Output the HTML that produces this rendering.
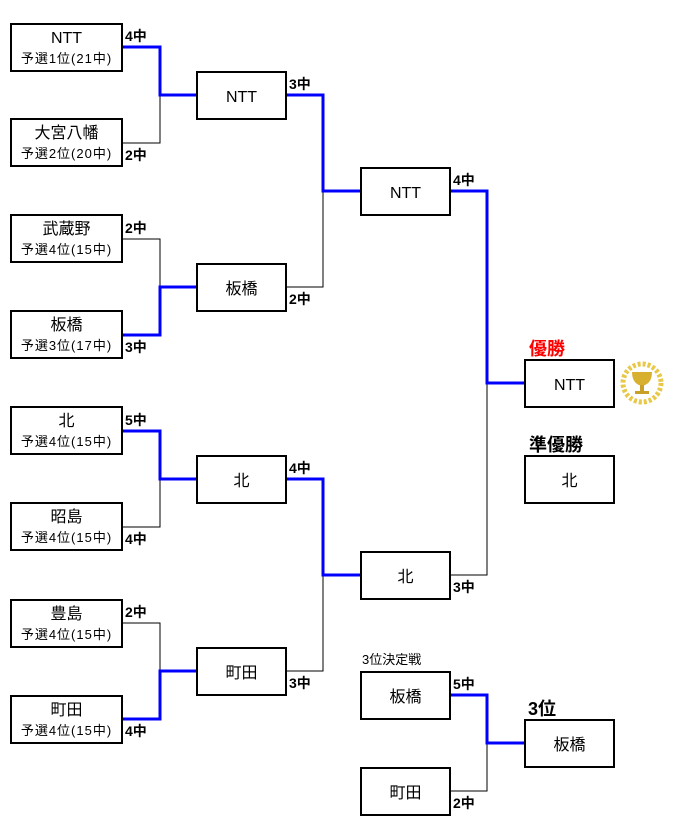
<!DOCTYPE html>
<html><head><meta charset="utf-8"><style>
body{margin:0;width:677px;height:834px;background:#fff;position:relative;overflow:hidden;font-family:"Liberation Sans","Noto Sans CJK JP",sans-serif}
.b{position:absolute;box-sizing:border-box;border:2px solid #000;background:#fff;text-align:center;color:#000}
.r1{left:10px;width:113px;height:49px}
.r1 .n{font-size:16px;line-height:18px;margin-top:5px}
.r1 .s{font-size:13px;line-height:16px;margin-top:3px;letter-spacing:1px}
.m{width:91px;height:49px;font-size:16px;line-height:49px}
.sc{position:absolute;font-weight:bold;font-size:14px;line-height:15px;color:#000}
.t{position:absolute;font-weight:bold;font-size:18px;line-height:20px}
svg{position:absolute;left:0;top:0}
</style></head><body>
<svg width="677" height="834">
<g fill="none" stroke="#000" stroke-width="1">
<polyline points="122,143 160,143 160,95"/>
<polyline points="122,239 160,239 160,287"/>
<polyline points="122,527 160,527 160,479"/>
<polyline points="122,623 160,623 160,671"/>
<polyline points="286,287 323,287 323,191"/>
<polyline points="286,671 323,671 323,575"/>
<polyline points="450,575 487,575 487,383"/>
<polyline points="450,791 487,791 487,743"/>
</g>
<g fill="none" stroke="#0000ff" stroke-width="3">
<polyline points="122,47 160,47 160,95 196,95"/>
<polyline points="122,335 160,335 160,287 196,287"/>
<polyline points="122,431 160,431 160,479 196,479"/>
<polyline points="122,719 160,719 160,671 196,671"/>
<polyline points="286,95 323,95 323,191 360,191"/>
<polyline points="286,479 323,479 323,575 360,575"/>
<polyline points="450,191 487,191 487,383 524,383"/>
<polyline points="450,695 487,695 487,743 524,743"/>
</g>
<g>
<circle cx="642" cy="383" r="19" fill="none" stroke="#e8c848" stroke-width="5" stroke-dasharray="3 2"/>
<path d="M632,372 h20 q0,12 -10,14 q-10,-2 -10,-14z" fill="#d8b030"/>
<rect x="640" y="385" width="4" height="6" fill="#c8a028"/>
<rect x="635" y="391" width="14" height="3" fill="#c8a028"/>
</g>
</svg>

<div class="b r1" style="top:23px"><div class="n">NTT</div><div class="s">予選1位(21中)</div></div>
<div class="b r1" style="top:118px"><div class="n">大宮八幡</div><div class="s">予選2位(20中)</div></div>
<div class="b r1" style="top:214px"><div class="n">武蔵野</div><div class="s">予選4位(15中)</div></div>
<div class="b r1" style="top:310px"><div class="n">板橋</div><div class="s">予選3位(17中)</div></div>
<div class="b r1" style="top:406px"><div class="n">北</div><div class="s">予選4位(15中)</div></div>
<div class="b r1" style="top:502px"><div class="n">昭島</div><div class="s">予選4位(15中)</div></div>
<div class="b r1" style="top:599px"><div class="n">豊島</div><div class="s">予選4位(15中)</div></div>
<div class="b r1" style="top:695px"><div class="n">町田</div><div class="s">予選4位(15中)</div></div>

<div class="b m" style="left:196px;top:71px">NTT</div>
<div class="b m" style="left:196px;top:263px">板橋</div>
<div class="b m" style="left:196px;top:455px">北</div>
<div class="b m" style="left:196px;top:647px">町田</div>
<div class="b m" style="left:360px;top:167px">NTT</div>
<div class="b m" style="left:360px;top:551px">北</div>
<div class="b m" style="left:524px;top:359px">NTT</div>
<div class="b m" style="left:524px;top:455px">北</div>
<div class="b m" style="left:360px;top:671px">板橋</div>
<div class="b m" style="left:360px;top:767px">町田</div>
<div class="b m" style="left:524px;top:719px">板橋</div>

<div class="sc" style="left:125px;top:29px">4中</div>
<div class="sc" style="left:125px;top:148px">2中</div>
<div class="sc" style="left:125px;top:221px">2中</div>
<div class="sc" style="left:125px;top:340px">3中</div>
<div class="sc" style="left:125px;top:413px">5中</div>
<div class="sc" style="left:125px;top:532px">4中</div>
<div class="sc" style="left:125px;top:605px">2中</div>
<div class="sc" style="left:125px;top:724px">4中</div>
<div class="sc" style="left:289px;top:77px">3中</div>
<div class="sc" style="left:289px;top:292px">2中</div>
<div class="sc" style="left:289px;top:461px">4中</div>
<div class="sc" style="left:289px;top:676px">3中</div>
<div class="sc" style="left:453px;top:173px">4中</div>
<div class="sc" style="left:453px;top:580px">3中</div>
<div class="sc" style="left:453px;top:677px">5中</div>
<div class="sc" style="left:453px;top:796px">2中</div>

<div class="t" style="left:529px;top:339px;color:#ff0000">優勝</div>
<div class="t" style="left:529px;top:435px">準優勝</div>
<div class="t" style="left:528px;top:699px">3位</div>
<div style="position:absolute;left:362px;top:652px;font-size:13px;line-height:15px">3位決定戦</div>
</body></html>
